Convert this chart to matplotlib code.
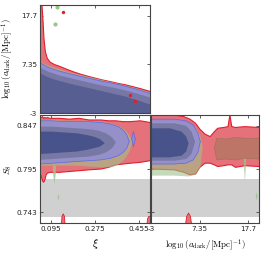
import matplotlib
matplotlib.use('Agg')
import matplotlib.pyplot as plt

plt.rcParams['mathtext.fontset'] = 'cm'
plt.rcParams['font.family'] = ['DejaVu Sans']

# ---------------- axes ranges / ticks ----------------
xi_lim = [0.05, 0.50]
a_lim = [-3.0, 20.0]
s8_lim = [0.73, 0.86]
xi_ticks = [0.095, 0.275, 0.455]
xi_ticklabels = ['0.095', '0.275', '0.455']
a_ticks = [-3.0, 7.35, 17.7]
a_ticklabels = ['-3', '7.35', '17.7']
s8_ticks = [0.743, 0.795, 0.847]
s8_ticklabels = ['0.743', '0.795', '0.847']
prior_band = [0.737, 0.783]

# ---------------- top-left: xi vs log10 a_dark (upper edges) ----------------
tl_red_xi = [0.050, 0.058, 0.062, 0.066, 0.072, 0.080, 0.092, 0.110, 0.132, 0.160,
             0.185, 0.220, 0.255, 0.300, 0.336, 0.370, 0.400, 0.430, 0.460, 0.500]
tl_red_hi = [20.0, 20.0, 17.0, 13.0, 10.0, 8.6, 7.8, 7.3, 6.9, 6.3,
             5.8, 5.2, 4.7, 4.1, 3.7, 3.3, 3.0, 2.6, 2.2, 1.6]
tl_xi = [0.050, 0.060, 0.080, 0.100, 0.130, 0.160, 0.200, 0.250, 0.300, 0.350, 0.400, 0.450, 0.500]
tl_green_hi = [8.2, 7.7, 7.2, 6.8, 6.3, 5.8, 5.3, 4.7, 4.1, 3.5, 2.9, 2.2, 1.4]
tl_blue1_hi = [7.8, 7.4, 6.8, 6.4, 5.9, 5.5, 5.0, 4.4, 3.8, 3.3, 2.7, 2.0, 1.2]
tl_blue2_hi = [6.8, 6.4, 5.9, 5.5, 5.0, 4.6, 4.1, 3.5, 2.9, 2.4, 1.8, 1.1, 0.3]
tl_blue3_hi = [5.6, 5.2, 4.7, 4.3, 3.8, 3.4, 2.9, 2.3, 1.7, 1.1, 0.5, -0.3, -1.2]
tl_green_dots_xi = [0.118, 0.111]
tl_green_dots_a = [19.6, 16.0]
tl_red_dots_xi = [0.146, 0.420, 0.440]
tl_red_dots_a = [18.5, 0.8, -0.5]

# ---------------- bottom-left: xi vs S8 ----------------
bl_red_xi = [0.050, 0.055, 0.060, 0.065, 0.070, 0.075, 0.080, 0.090, 0.130, 0.170,
             0.210, 0.250, 0.300, 0.330, 0.360, 0.390, 0.420, 0.460, 0.500]
bl_red_hi = [0.857, 0.857, 0.858, 0.856, 0.857, 0.856, 0.857, 0.856, 0.856, 0.855,
             0.856, 0.854, 0.854, 0.853, 0.853, 0.852, 0.852, 0.853, 0.851]
bl_red_lo = [0.791, 0.786, 0.781, 0.779, 0.782, 0.788, 0.790, 0.791, 0.791, 0.792,
             0.793, 0.794, 0.795, 0.797, 0.800, 0.801, 0.802, 0.803, 0.805]
bl_green_xi = [0.050, 0.100, 0.150, 0.200, 0.250, 0.300, 0.340, 0.370, 0.395, 0.415, 0.430]
bl_green_hi = [0.854, 0.854, 0.853, 0.853, 0.853, 0.852, 0.850, 0.847, 0.843, 0.836, 0.828]
bl_green_lo = [0.799, 0.799, 0.799, 0.799, 0.798, 0.797, 0.797, 0.800, 0.806, 0.815, 0.828]
bl_blue1_xi = [0.050, 0.100, 0.150, 0.200, 0.250, 0.300, 0.340, 0.370, 0.390, 0.405, 0.415]
bl_blue1_hi = [0.853, 0.853, 0.852, 0.852, 0.852, 0.851, 0.849, 0.846, 0.842, 0.836, 0.828]
bl_blue1_lo = [0.801, 0.802, 0.803, 0.804, 0.805, 0.806, 0.808, 0.811, 0.815, 0.820, 0.828]
bl_blue2_xi = [0.050, 0.100, 0.150, 0.200, 0.250, 0.290, 0.320, 0.345, 0.360]
bl_blue2_hi = [0.846, 0.846, 0.845, 0.844, 0.843, 0.841, 0.838, 0.833, 0.827]
bl_blue2_lo = [0.806, 0.807, 0.808, 0.809, 0.810, 0.812, 0.815, 0.820, 0.827]
bl_blue3_xi = [0.050, 0.100, 0.150, 0.200, 0.240, 0.270, 0.295, 0.315]
bl_blue3_hi = [0.840, 0.840, 0.839, 0.838, 0.836, 0.834, 0.831, 0.826]
bl_blue3_lo = [0.813, 0.814, 0.815, 0.816, 0.818, 0.820, 0.822, 0.826]
bl_blue_isl_xi = [0.425, 0.432, 0.440]
bl_blue_isl_hi = [0.831, 0.840, 0.831]
bl_blue_isl_lo = [0.831, 0.822, 0.831]
bl_green_tail1_xi = [0.103, 0.109, 0.115]
bl_green_tail1_lo = [0.790, 0.777, 0.790]
bl_green_tail1_hi = [0.799, 0.799, 0.799]
bl_green_tail2_xi = [0.122, 0.1255, 0.129]
bl_green_tail2_lo = [0.761, 0.757, 0.761]
bl_green_tail2_hi = [0.761, 0.765, 0.761]
bl_red_blob1_xi = [0.138, 0.140, 0.145, 0.150, 0.152]
bl_red_blob1_hi = [0.730, 0.738, 0.741, 0.738, 0.730]
bl_red_blob2_xi = [0.488, 0.490, 0.495, 0.500]
bl_red_blob2_hi = [0.730, 0.735, 0.738, 0.738]

# ---------------- bottom-right: log10 a_dark vs S8 ----------------
br_red_a = [-3.0, 2.0, 4.0, 5.3, 6.5, 7.4, 8.5, 9.6, 10.5, 11.2, 12.5, 13.4,
            13.8, 14.2, 15.0, 17.0, 20.0]
br_red_hi = [0.860, 0.860, 0.858, 0.855, 0.850, 0.843, 0.837, 0.834, 0.840, 0.844,
             0.845, 0.846, 0.860, 0.846, 0.845, 0.846, 0.845]
br_red_lo = [0.795, 0.794, 0.791, 0.788, 0.789, 0.797, 0.802, 0.802, 0.800, 0.798,
             0.799, 0.800, 0.800, 0.800, 0.797, 0.799, 0.798]
br_green_l_a = [-3.0, 2.0, 5.0, 6.5, 7.5, 8.0]
br_green_l_hi = [0.853, 0.853, 0.850, 0.845, 0.835, 0.822]
br_green_l_lo = [0.787, 0.787, 0.786, 0.788, 0.796, 0.822]
br_green_r_a = [10.5, 11.0, 13.0, 15.0, 17.0, 20.0]
br_green_r_hi = [0.820, 0.832, 0.831, 0.833, 0.832, 0.832]
br_green_r_lo = [0.820, 0.806, 0.807, 0.806, 0.808, 0.807]
br_blue1_a = [-3.0, 2.0, 4.5, 6.0, 7.0, 7.5]
br_blue1_hi = [0.855, 0.855, 0.853, 0.848, 0.838, 0.828]
br_blue1_lo = [0.801, 0.801, 0.802, 0.806, 0.815, 0.828]
br_blue2_a = [-3.0, 2.0, 4.5, 5.6, 6.4]
br_blue2_hi = [0.850, 0.850, 0.847, 0.840, 0.828]
br_blue2_lo = [0.805, 0.805, 0.807, 0.813, 0.828]
br_blue3_a = [-3.0, 1.0, 3.5, 4.5, 5.0]
br_blue3_hi = [0.844, 0.844, 0.840, 0.834, 0.826]
br_blue3_lo = [0.809, 0.809, 0.811, 0.816, 0.826]
br_green_tail1_a = [16.8, 17.0, 17.2]
br_green_tail1_lo = [0.800, 0.779, 0.800]
br_green_tail1_hi = [0.808, 0.808, 0.808]
br_green_tail2_a = [19.3, 19.5, 19.7]
br_green_tail2_lo = [0.762, 0.757, 0.762]
br_green_tail2_hi = [0.762, 0.767, 0.762]
br_red_blob_a = [4.4, 4.6, 5.0, 5.4, 5.6]
br_red_blob_hi = [0.730, 0.738, 0.742, 0.738, 0.730]

# ---------------- styles ----------------
RED_F, RED_E = '#e5727a', '#e01e2e'
GREEN_F = '#9cc48a'
BROWN_G = '#8a7a50'
BLUE1_F, BLUE1_E = '#8c8cdc', '#5a68e6'
BLUE2_F = '#6e7098'
BLUE3_F = '#3c4a84'
GRAY = '#d0d0d0'
SPINE = '#444444'

W, H = 266, 254
fig = plt.figure(figsize=(W / 100, H / 100), dpi=100)


def px_axes(x0, y0, x1, y1):
    return fig.add_axes([x0 / W, 1 - y1 / H, (x1 - x0) / W, (y1 - y0) / H])


ax_tl = px_axes(40, 5, 150, 113)
ax_bl = px_axes(40, 115, 150, 223)
ax_br = px_axes(151, 115, 259, 223)


def band(ax, x, lo, hi, fc, alpha, ec=None, lw=0.7, z=2):
    ax.fill_between(x, lo, hi, facecolor=fc, alpha=alpha, lw=0, zorder=z)
    if ec is not None:
        ax.plot(x, hi, color=ec, lw=lw, zorder=z + 0.05)
        ax.plot(x, lo, color=ec, lw=lw, zorder=z + 0.05)


# top-left
ax = ax_tl
low = a_lim[0]
ax.fill_between(tl_red_xi, low, tl_red_hi, facecolor=RED_F, lw=0, zorder=2)
ax.plot(tl_red_xi, tl_red_hi, color=RED_E, lw=0.8, zorder=2.05)
ax.fill_between(tl_xi, low, tl_green_hi, facecolor=GREEN_F, alpha=0.6, lw=0, zorder=2.1)
ax.fill_between(tl_xi, low, tl_blue1_hi, facecolor=BLUE1_F, alpha=0.85, lw=0, zorder=2.2)
ax.plot(tl_xi, tl_blue1_hi, color=BLUE1_E, lw=0.5, zorder=2.25)
ax.fill_between(tl_xi, low, tl_blue2_hi, facecolor=BLUE2_F, alpha=0.75, lw=0, zorder=2.3)
ax.fill_between(tl_xi, low, tl_blue3_hi, facecolor=BLUE3_F, alpha=0.55, lw=0, zorder=2.4)
ax.scatter(tl_green_dots_xi, tl_green_dots_a, s=9, color=GREEN_F, lw=0, zorder=3)
ax.scatter(tl_red_dots_xi, tl_red_dots_a, s=6, color=RED_E, lw=0, zorder=3)

# bottom-left
ax = ax_bl
ax.axhspan(prior_band[0], prior_band[1], color=GRAY, lw=0, zorder=0.5)
band(ax, bl_red_xi, bl_red_lo, bl_red_hi, RED_F, 1.0, RED_E, 0.8, 2)
band(ax, bl_red_blob1_xi, [s8_lim[0]] * 5, bl_red_blob1_hi, RED_F, 1.0, None, z=2)
ax.plot(bl_red_blob1_xi, bl_red_blob1_hi, color=RED_E, lw=0.6, zorder=2.05)
band(ax, bl_red_blob2_xi, [s8_lim[0]] * 4, bl_red_blob2_hi, RED_F, 1.0, None, z=2)
ax.plot(bl_red_blob2_xi, bl_red_blob2_hi, color=RED_E, lw=0.6, zorder=2.05)
band(ax, bl_green_xi, bl_green_lo, bl_green_hi, GREEN_F, 0.6, None, z=2.1)
band(ax, bl_green_tail1_xi, bl_green_tail1_lo, bl_green_tail1_hi, GREEN_F, 0.8, None, z=2.1)
band(ax, bl_green_tail2_xi, bl_green_tail2_lo, bl_green_tail2_hi, GREEN_F, 0.8, None, z=2.1)
band(ax, bl_blue1_xi, bl_blue1_lo, bl_blue1_hi, BLUE1_F, 0.8, BLUE1_E, 0.5, 2.2)
band(ax, bl_blue_isl_xi, bl_blue_isl_lo, bl_blue_isl_hi, BLUE1_F, 0.85, BLUE1_E, 0.5, 2.2)
band(ax, bl_blue2_xi, bl_blue2_lo, bl_blue2_hi, BLUE2_F, 0.75, None, z=2.3)
band(ax, bl_blue3_xi, bl_blue3_lo, bl_blue3_hi, BLUE3_F, 0.8, None, z=2.4)

# bottom-right
ax = ax_br
ax.axhspan(prior_band[0], prior_band[1], color=GRAY, lw=0, zorder=0.5)
band(ax, br_red_a, br_red_lo, br_red_hi, RED_F, 1.0, RED_E, 0.8, 2)
band(ax, br_red_blob_a, [s8_lim[0]] * 5, br_red_blob_hi, RED_F, 1.0, None, z=2)
ax.plot(br_red_blob_a, br_red_blob_hi, color=RED_E, lw=0.6, zorder=2.05)
band(ax, br_green_l_a, br_green_l_lo, br_green_l_hi, GREEN_F, 0.6, None, z=2.1)
band(ax, br_green_r_a, br_green_r_lo, br_green_r_hi, BROWN_G, 0.45, '#a8705a', 0.5, 2.1)
band(ax, br_green_tail1_a, br_green_tail1_lo, br_green_tail1_hi, GREEN_F, 0.8, None, z=2.1)
band(ax, br_green_tail2_a, br_green_tail2_lo, br_green_tail2_hi, GREEN_F, 0.8, None, z=2.1)
band(ax, br_blue1_a, br_blue1_lo, br_blue1_hi, BLUE1_F, 0.8, BLUE1_E, 0.5, 2.2)
band(ax, br_blue2_a, br_blue2_lo, br_blue2_hi, BLUE2_F, 0.75, None, z=2.3)
band(ax, br_blue3_a, br_blue3_lo, br_blue3_hi, BLUE3_F, 0.8, None, z=2.4)

# ---------------- axes cosmetics ----------------
for ax in (ax_tl, ax_bl, ax_br):
    for sp in ax.spines.values():
        sp.set_color(SPINE)
        sp.set_linewidth(0.8)
        sp.set_zorder(5)
    ax.tick_params(direction='in', length=2.5, width=0.6, top=True, right=True,
                   labelsize=5.2, pad=2, colors=SPINE, labelcolor='#222222')

ax_tl.set_xlim(xi_lim)
ax_tl.set_ylim(a_lim)
ax_tl.set_xticks(xi_ticks)
ax_tl.set_xticklabels([])
ax_tl.set_yticks(a_ticks)
ax_tl.set_yticklabels(a_ticklabels)
ax_tl.set_ylabel(r'$\log_{10}(a_{\rm dark}/[{\rm Mpc}]^{-1})$', fontsize=6.4)
ax_tl.yaxis.set_label_coords(-0.225, 0.5)

ax_bl.set_xlim(xi_lim)
ax_bl.set_ylim(s8_lim)
ax_bl.set_xticks(xi_ticks)
ax_bl.set_xticklabels(xi_ticklabels)
ax_bl.set_yticks(s8_ticks)
ax_bl.set_yticklabels(s8_ticklabels)
ax_bl.set_ylabel(r'$S_8$', fontsize=7)
ax_bl.yaxis.set_label_coords(-0.235, 0.5)
ax_bl.set_xlabel(r'$\xi$', fontsize=8)
ax_bl.xaxis.set_label_coords(0.5, -0.13)

ax_br.set_xlim(a_lim)
ax_br.set_ylim(s8_lim)
ax_br.set_xticks(a_ticks)
ax_br.set_xticklabels(a_ticklabels)
ax_br.set_yticks(s8_ticks)
ax_br.set_yticklabels([])
ax_br.set_xlabel(r'$\log_{10}(a_{\rm dark}/[{\rm Mpc}]^{-1})$', fontsize=6.4)
ax_br.xaxis.set_label_coords(0.5, -0.13)

fig.savefig('out.png', dpi=100)
